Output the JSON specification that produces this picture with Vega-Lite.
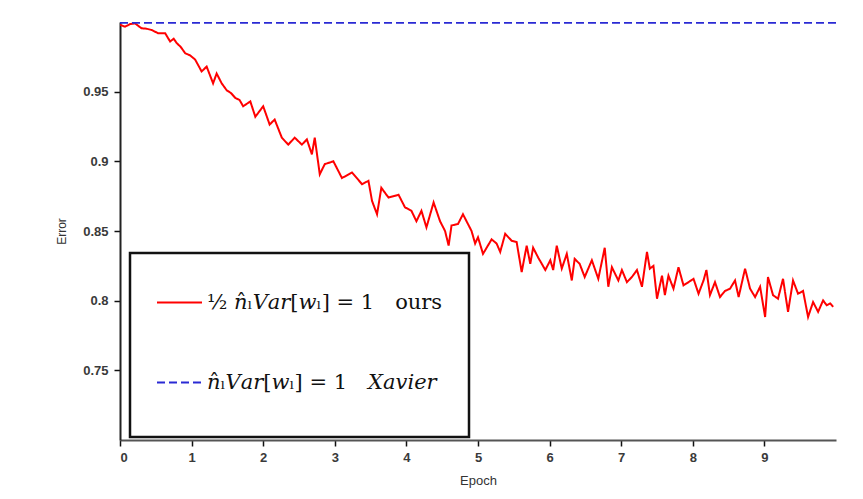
{
  "$schema": "https://vega.github.io/schema/vega-lite/v6.json",
  "width": 716,
  "height": 418,
  "autosize": "none",
  "padding": {"left": 120, "top": 22, "right": 27, "bottom": 59},
  "background": "white",
  "config": {
    "view": {"stroke": null},
    "font": "Liberation Sans"
  },
  "data": {
    "values": [
      {"epoch": 0.00, "error": 0.998, "series": "ours"},
      {"epoch": 0.07, "error": 0.9966, "series": "ours"},
      {"epoch": 0.14, "error": 0.9985, "series": "ours"},
      {"epoch": 0.21, "error": 0.999, "series": "ours"},
      {"epoch": 0.30, "error": 0.9955, "series": "ours"},
      {"epoch": 0.37, "error": 0.9952, "series": "ours"},
      {"epoch": 0.44, "error": 0.9943, "series": "ours"},
      {"epoch": 0.53, "error": 0.992, "series": "ours"},
      {"epoch": 0.63, "error": 0.992, "series": "ours"},
      {"epoch": 0.70, "error": 0.986, "series": "ours"},
      {"epoch": 0.75, "error": 0.988, "series": "ours"},
      {"epoch": 0.79, "error": 0.985, "series": "ours"},
      {"epoch": 0.85, "error": 0.982, "series": "ours"},
      {"epoch": 0.91, "error": 0.9776, "series": "ours"},
      {"epoch": 0.98, "error": 0.976, "series": "ours"},
      {"epoch": 1.05, "error": 0.973, "series": "ours"},
      {"epoch": 1.14, "error": 0.9645, "series": "ours"},
      {"epoch": 1.21, "error": 0.968, "series": "ours"},
      {"epoch": 1.30, "error": 0.956, "series": "ours"},
      {"epoch": 1.35, "error": 0.963, "series": "ours"},
      {"epoch": 1.42, "error": 0.956, "series": "ours"},
      {"epoch": 1.49, "error": 0.951, "series": "ours"},
      {"epoch": 1.55, "error": 0.949, "series": "ours"},
      {"epoch": 1.61, "error": 0.9455, "series": "ours"},
      {"epoch": 1.67, "error": 0.944, "series": "ours"},
      {"epoch": 1.72, "error": 0.9395, "series": "ours"},
      {"epoch": 1.82, "error": 0.943, "series": "ours"},
      {"epoch": 1.89, "error": 0.932, "series": "ours"},
      {"epoch": 2.00, "error": 0.9395, "series": "ours"},
      {"epoch": 2.09, "error": 0.9264, "series": "ours"},
      {"epoch": 2.16, "error": 0.930, "series": "ours"},
      {"epoch": 2.26, "error": 0.917, "series": "ours"},
      {"epoch": 2.35, "error": 0.912, "series": "ours"},
      {"epoch": 2.44, "error": 0.917, "series": "ours"},
      {"epoch": 2.54, "error": 0.912, "series": "ours"},
      {"epoch": 2.61, "error": 0.9157, "series": "ours"},
      {"epoch": 2.68, "error": 0.905, "series": "ours"},
      {"epoch": 2.72, "error": 0.917, "series": "ours"},
      {"epoch": 2.79, "error": 0.8907, "series": "ours"},
      {"epoch": 2.86, "error": 0.898, "series": "ours"},
      {"epoch": 2.98, "error": 0.900, "series": "ours"},
      {"epoch": 3.10, "error": 0.888, "series": "ours"},
      {"epoch": 3.24, "error": 0.892, "series": "ours"},
      {"epoch": 3.38, "error": 0.8836, "series": "ours"},
      {"epoch": 3.47, "error": 0.886, "series": "ours"},
      {"epoch": 3.52, "error": 0.8716, "series": "ours"},
      {"epoch": 3.59, "error": 0.862, "series": "ours"},
      {"epoch": 3.65, "error": 0.881, "series": "ours"},
      {"epoch": 3.75, "error": 0.874, "series": "ours"},
      {"epoch": 3.89, "error": 0.876, "series": "ours"},
      {"epoch": 3.98, "error": 0.867, "series": "ours"},
      {"epoch": 4.07, "error": 0.8645, "series": "ours"},
      {"epoch": 4.14, "error": 0.857, "series": "ours"},
      {"epoch": 4.21, "error": 0.8645, "series": "ours"},
      {"epoch": 4.28, "error": 0.8526, "series": "ours"},
      {"epoch": 4.38, "error": 0.8705, "series": "ours"},
      {"epoch": 4.47, "error": 0.857, "series": "ours"},
      {"epoch": 4.54, "error": 0.850, "series": "ours"},
      {"epoch": 4.59, "error": 0.8395, "series": "ours"},
      {"epoch": 4.63, "error": 0.854, "series": "ours"},
      {"epoch": 4.72, "error": 0.855, "series": "ours"},
      {"epoch": 4.79, "error": 0.862, "series": "ours"},
      {"epoch": 4.91, "error": 0.850, "series": "ours"},
      {"epoch": 4.96, "error": 0.841, "series": "ours"},
      {"epoch": 5.00, "error": 0.8455, "series": "ours"},
      {"epoch": 5.07, "error": 0.8336, "series": "ours"},
      {"epoch": 5.19, "error": 0.844, "series": "ours"},
      {"epoch": 5.26, "error": 0.841, "series": "ours"},
      {"epoch": 5.31, "error": 0.835, "series": "ours"},
      {"epoch": 5.38, "error": 0.848, "series": "ours"},
      {"epoch": 5.47, "error": 0.843, "series": "ours"},
      {"epoch": 5.54, "error": 0.842, "series": "ours"},
      {"epoch": 5.61, "error": 0.8205, "series": "ours"},
      {"epoch": 5.68, "error": 0.8395, "series": "ours"},
      {"epoch": 5.73, "error": 0.8264, "series": "ours"},
      {"epoch": 5.77, "error": 0.838, "series": "ours"},
      {"epoch": 5.84, "error": 0.831, "series": "ours"},
      {"epoch": 5.94, "error": 0.822, "series": "ours"},
      {"epoch": 6.01, "error": 0.829, "series": "ours"},
      {"epoch": 6.05, "error": 0.822, "series": "ours"},
      {"epoch": 6.10, "error": 0.8395, "series": "ours"},
      {"epoch": 6.17, "error": 0.823, "series": "ours"},
      {"epoch": 6.24, "error": 0.8336, "series": "ours"},
      {"epoch": 6.31, "error": 0.8145, "series": "ours"},
      {"epoch": 6.35, "error": 0.830, "series": "ours"},
      {"epoch": 6.42, "error": 0.8264, "series": "ours"},
      {"epoch": 6.49, "error": 0.817, "series": "ours"},
      {"epoch": 6.59, "error": 0.829, "series": "ours"},
      {"epoch": 6.68, "error": 0.8157, "series": "ours"},
      {"epoch": 6.77, "error": 0.838, "series": "ours"},
      {"epoch": 6.82, "error": 0.810, "series": "ours"},
      {"epoch": 6.87, "error": 0.824, "series": "ours"},
      {"epoch": 6.96, "error": 0.8145, "series": "ours"},
      {"epoch": 7.01, "error": 0.822, "series": "ours"},
      {"epoch": 7.08, "error": 0.8133, "series": "ours"},
      {"epoch": 7.15, "error": 0.817, "series": "ours"},
      {"epoch": 7.22, "error": 0.822, "series": "ours"},
      {"epoch": 7.29, "error": 0.810, "series": "ours"},
      {"epoch": 7.36, "error": 0.835, "series": "ours"},
      {"epoch": 7.40, "error": 0.823, "series": "ours"},
      {"epoch": 7.45, "error": 0.825, "series": "ours"},
      {"epoch": 7.50, "error": 0.8014, "series": "ours"},
      {"epoch": 7.57, "error": 0.818, "series": "ours"},
      {"epoch": 7.61, "error": 0.804, "series": "ours"},
      {"epoch": 7.66, "error": 0.818, "series": "ours"},
      {"epoch": 7.73, "error": 0.8086, "series": "ours"},
      {"epoch": 7.80, "error": 0.824, "series": "ours"},
      {"epoch": 7.87, "error": 0.811, "series": "ours"},
      {"epoch": 7.94, "error": 0.8133, "series": "ours"},
      {"epoch": 8.01, "error": 0.8157, "series": "ours"},
      {"epoch": 8.08, "error": 0.805, "series": "ours"},
      {"epoch": 8.15, "error": 0.8145, "series": "ours"},
      {"epoch": 8.19, "error": 0.822, "series": "ours"},
      {"epoch": 8.24, "error": 0.804, "series": "ours"},
      {"epoch": 8.31, "error": 0.8133, "series": "ours"},
      {"epoch": 8.38, "error": 0.8026, "series": "ours"},
      {"epoch": 8.45, "error": 0.807, "series": "ours"},
      {"epoch": 8.52, "error": 0.8086, "series": "ours"},
      {"epoch": 8.59, "error": 0.8145, "series": "ours"},
      {"epoch": 8.64, "error": 0.8026, "series": "ours"},
      {"epoch": 8.73, "error": 0.823, "series": "ours"},
      {"epoch": 8.80, "error": 0.8086, "series": "ours"},
      {"epoch": 8.87, "error": 0.8026, "series": "ours"},
      {"epoch": 8.94, "error": 0.810, "series": "ours"},
      {"epoch": 9.01, "error": 0.7883, "series": "ours"},
      {"epoch": 9.05, "error": 0.817, "series": "ours"},
      {"epoch": 9.12, "error": 0.804, "series": "ours"},
      {"epoch": 9.19, "error": 0.8014, "series": "ours"},
      {"epoch": 9.26, "error": 0.8157, "series": "ours"},
      {"epoch": 9.33, "error": 0.792, "series": "ours"},
      {"epoch": 9.40, "error": 0.8145, "series": "ours"},
      {"epoch": 9.47, "error": 0.805, "series": "ours"},
      {"epoch": 9.54, "error": 0.807, "series": "ours"},
      {"epoch": 9.61, "error": 0.7883, "series": "ours"},
      {"epoch": 9.68, "error": 0.799, "series": "ours"},
      {"epoch": 9.75, "error": 0.792, "series": "ours"},
      {"epoch": 9.82, "error": 0.8002, "series": "ours"},
      {"epoch": 9.87, "error": 0.7967, "series": "ours"},
      {"epoch": 9.92, "error": 0.798, "series": "ours"},
      {"epoch": 9.96, "error": 0.7955, "series": "ours"},
      {"epoch": 0.0, "error": 0.9995, "series": "Xavier"},
      {"epoch": 10.0, "error": 0.9995, "series": "Xavier"}
    ]
  },
  "mark": {"type": "line", "strokeWidth": 2, "clip": true},
  "encoding": {
    "x": {
      "field": "epoch",
      "type": "quantitative",
      "scale": {"domain": [0, 10], "nice": false, "zero": false},
      "axis": {
        "title": "Epoch",
        "values": [0, 1, 2, 3, 4, 5, 6, 7, 8, 9],
        "format": "d",
        "grid": false,
        "domainColor": "#555555",
        "domainWidth": 2,
        "ticks": true,
        "tickColor": "#111111",
        "tickWidth": 1.5,
        "tickSize": 6,
        "labelPadding": 5,
        "labelFontSize": 13,
        "labelFontWeight": "bold",
        "labelFont": "Liberation Sans",
        "labelColor": "#3a3a3a",
        "titleFontSize": 13,
        "titleFontWeight": "normal",
        "titleColor": "#333333",
        "titlePadding": 10,
        "encode": {"ticks": {"update": {"y2": {"value": -6}}}}
      }
    },
    "y": {
      "field": "error",
      "type": "quantitative",
      "scale": {"domain": [0.7, 1.0], "nice": false, "zero": false},
      "axis": {
        "title": "Error",
        "values": [0.75, 0.8, 0.85, 0.9, 0.95],
        "format": ".2~f",
        "grid": false,
        "domainColor": "#222222",
        "domainWidth": 2,
        "ticks": true,
        "tickColor": "#111111",
        "tickWidth": 1.5,
        "tickSize": 6,
        "labelPadding": 6,
        "labelFontSize": 13,
        "labelFontWeight": "bold",
        "labelFont": "Liberation Sans",
        "labelColor": "#3a3a3a",
        "titleFontSize": 12,
        "titleFontWeight": "normal",
        "titleColor": "#333333",
        "titlePadding": 14,
        "encode": {"ticks": {"update": {"x2": {"value": 6}}}}
      }
    },
    "color": {
      "field": "series",
      "type": "nominal",
      "scale": {"domain": ["ours", "Xavier"], "range": ["#ff0000", "#2a2ad4"]},
      "legend": {
        "title": "\u00a0",
        "titleOrient": "bottom",
        "titleFontSize": 10,
        "titlePadding": 8,
        "orient": "none",
        "legendX": 10,
        "legendY": 231,
        "padding": 26,
        "fillColor": "white",
        "strokeColor": "#111111",
        "symbolType": "stroke",
        "symbolSize": 2025,
        "symbolStrokeWidth": 2,
        "rowPadding": 46,
        "labelOffset": 4,
        "labelFont": "DejaVu Serif",
        "labelFontSize": 21,
        "labelColor": "#111111",
        "labelLimit": 400,
        "labelExpr": "datum.value == 'ours' ? '½ 𝑛̂ₗ𝑉𝑎𝑟[𝑤ₗ] = 1\u2003ours' : '𝑛̂ₗ𝑉𝑎𝑟[𝑤ₗ] = 1\u2003𝑋𝑎𝑣𝑖𝑒𝑟'",
        "encode": {"legend": {"update": {"strokeWidth": {"value": 2.5}}}}
      }
    },
    "strokeDash": {
      "field": "series",
      "type": "nominal",
      "scale": {"domain": ["ours", "Xavier"], "range": [[1, 0], [8, 4]]},
      "legend": {
        "title": "\u00a0",
        "titleOrient": "bottom",
        "titleFontSize": 10,
        "titlePadding": 8,
        "orient": "none",
        "legendX": 10,
        "legendY": 231,
        "padding": 26,
        "fillColor": "white",
        "strokeColor": "#111111",
        "symbolType": "stroke",
        "symbolSize": 2025,
        "symbolStrokeWidth": 2,
        "rowPadding": 46,
        "labelOffset": 4,
        "labelFont": "DejaVu Serif",
        "labelFontSize": 21,
        "labelColor": "#111111",
        "labelLimit": 400,
        "labelExpr": "datum.value == 'ours' ? '½ 𝑛̂ₗ𝑉𝑎𝑟[𝑤ₗ] = 1\u2003ours' : '𝑛̂ₗ𝑉𝑎𝑟[𝑤ₗ] = 1\u2003𝑋𝑎𝑣𝑖𝑒𝑟'",
        "encode": {"legend": {"update": {"strokeWidth": {"value": 2.5}}}}
      }
    }
  }
}
